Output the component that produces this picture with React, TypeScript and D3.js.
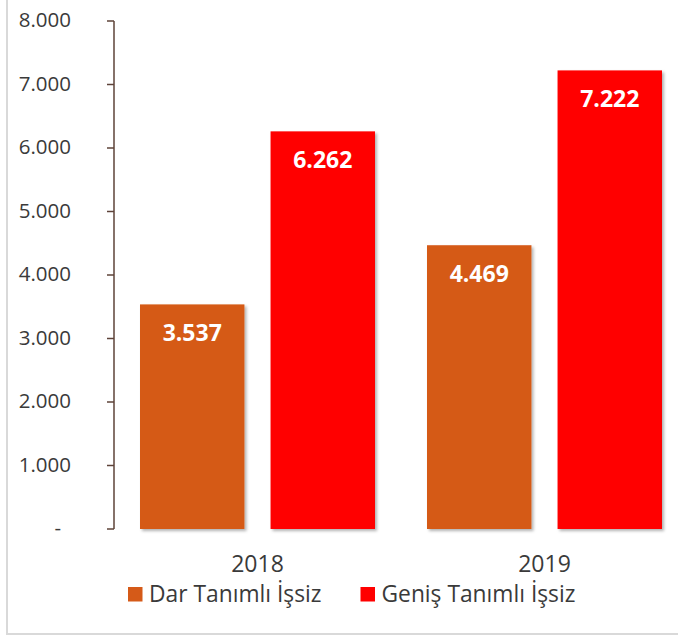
import React from "react";
import * as d3 from "d3";

const categories = ["2018", "2019"];
const seriesNames = ["Dar Tanımlı İşsiz", "Geniş Tanımlı İşsiz"];
const darValues = [3537, 4469];
const genisValues = [6262, 7222];
const tickValues = [0, 1000, 2000, 3000, 4000, 5000, 6000, 7000, 8000];
const colors = ["#D55A18", "#FF0000"];

const fmt = (v: number) => (v === 0 ? "-" : d3.format(",")(v).replace(/,/g, "."));

export default function App() {
  const W = 678, H = 636;
  const left = 114, top = 21, bottom = 529;
  const y = d3.scaleLinear().domain([0, 8000]).range([bottom, top]);
  const x = d3.scaleBand<string>().domain(categories).range([left, left + 574]).padding(0);
  const inner = d3.scaleBand<string>().domain(seriesNames).range([26, x.bandwidth() - 26]).paddingInner(0.2);
  const values = [darValues, genisValues];
  const font = "'Open Sans', sans-serif";
  const axisColor = "#5E4339";
  const textColor = "#3A3A3A";

  return (
    <svg width={W} height={H} style={{ position: "absolute", left: 0, top: 0 }} fontFamily={font}>
      <defs>
        <filter id="sh" x="-10%" y="-10%" width="130%" height="130%">
          <feDropShadow dx="2" dy="2" stdDeviation="1.5" floodColor="#000" floodOpacity="0.3" />
        </filter>
      </defs>
      <rect x={0} y={0} width={W} height={H} fill="#fff" />
      <rect x={7} y={-5} width={W + 10} height={634 + 5} fill="none" stroke="#D9D9D9" strokeWidth={2} />
      {/* bars */}
      {seriesNames.map((s, si) =>
        categories.map((c, ci) => {
          const v = values[si][ci];
          const bx = (x(c) ?? 0) + (inner(s) ?? 0);
          const by = y(v);
          return (
            <g key={s + c}>
              <rect x={bx} y={by} width={inner.bandwidth()} height={bottom - by} fill={colors[si]} filter="url(#sh)" />
              <text x={bx + inner.bandwidth() / 2} y={by + 37} textAnchor="middle" fill="#fff" fontWeight={700} fontSize={23}>
                {fmt(v)}
              </text>
            </g>
          );
        })
      )}
      {/* axis */}
      <line x1={left} x2={left} y1={top} y2={bottom} stroke={axisColor} strokeWidth={1.5} />
      {tickValues.map((t) => (
        <g key={t}>
          <line x1={left - 7} x2={left} y1={y(t)} y2={y(t)} stroke={axisColor} strokeWidth={1.5} />
          <text x={t === 0 ? 61 : 71} y={y(t) + 6} textAnchor="end" fill={textColor} fontSize={20.5}>
            {fmt(t)}
          </text>
        </g>
      ))}
      {/* category labels */}
      {categories.map((c) => (
        <text key={c} x={(x(c) ?? 0) + x.bandwidth() / 2} y={572} textAnchor="middle" fill={textColor} fontSize={23}>
          {c}
        </text>
      ))}
      {/* legend */}
      {seriesNames.map((s, i) => {
        const lx = [128, 360.5][i];
        return (
          <g key={s}>
            <rect x={lx} y={587} width={14.5} height={14.5} fill={colors[i]} />
            <text x={lx + 21} y={602} fill={textColor} fontSize={22.8}>
              {s}
            </text>
          </g>
        );
      })}
    </svg>
  );
}
